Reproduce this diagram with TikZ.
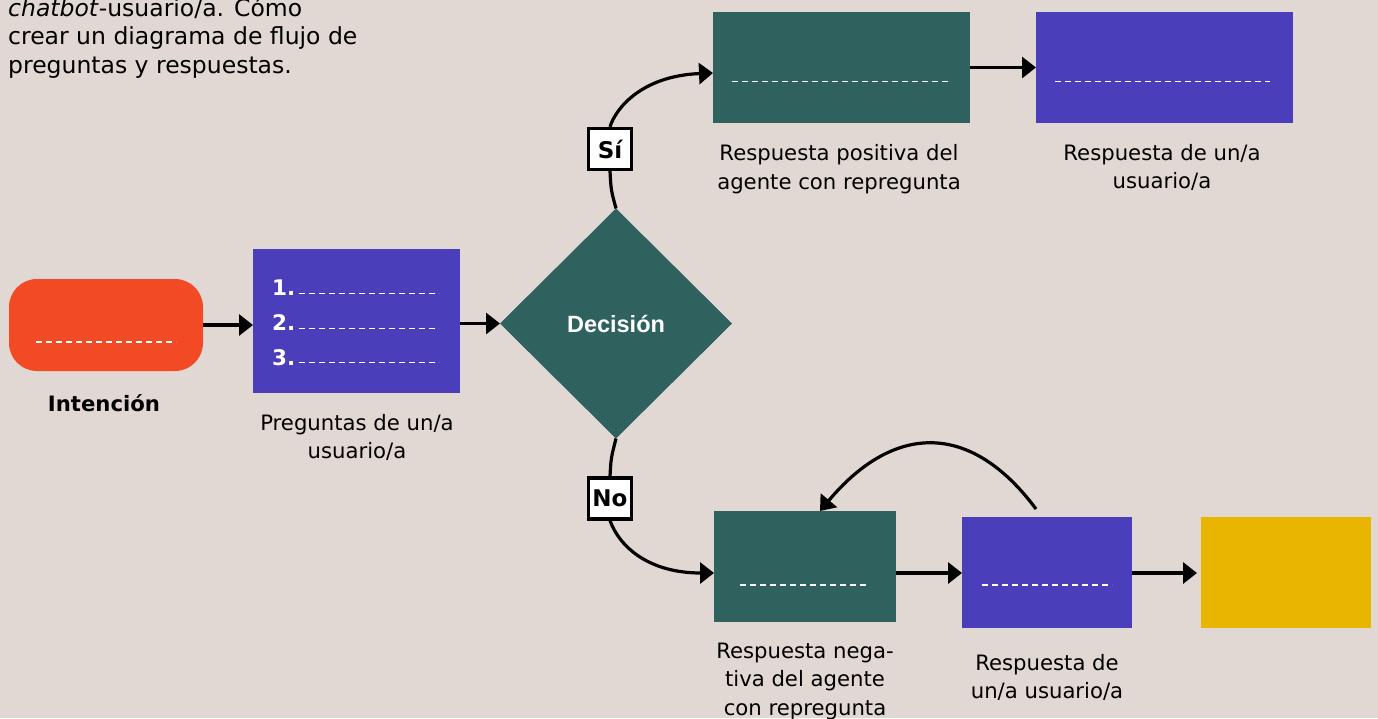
\documentclass[tikz,border=0pt]{standalone}
\usepackage{fontspec}
\setmainfont{DejaVu Sans}
\newfontfamily\decfont{Liberation Sans}
\usetikzlibrary{arrows.meta,shapes.geometric,calc}
\definecolor{bgc}{HTML}{E2D8D3}
\definecolor{orangec}{HTML}{F24A25}
\definecolor{purplec}{HTML}{4A3EBB}
\definecolor{greenc}{HTML}{2F625F}
\definecolor{yellowc}{HTML}{E9B501}
\begin{document}
\begin{tikzpicture}[x=1pt,y=-1pt,
  box/.style={draw=none,inner sep=0pt,outer sep=0pt},
  conn/.style={line width=3.2pt},
  arr/.style={line width=3.2pt,-{Triangle[length=14pt 0 0,width=21pt 0 0]}},
  dsh/.style={white,line width=1.5pt,dash pattern=on 6pt off 4pt},
  lbl/.style={inner sep=0pt,anchor=base,font=\fontsize{21.2}{28.5}\selectfont},
  num/.style={anchor=base west,inner sep=0pt,text=white,font=\fontsize{21.5}{26}\selectfont\bfseries},
  tag/.style={draw=black,fill=white,line width=3.2pt,minimum width=43pt,minimum height=41pt,inner sep=0pt,font=\fontsize{23}{26}\selectfont\bfseries},
  ]
\fill[bgc] (0,0) rectangle (1378,718);
\useasboundingbox (0,0) rectangle (1378,718);

% intro text
\node[anchor=base west,inner sep=0pt,font=\fontsize{23.5}{28.5}\selectfont] (intro) at (8,16)
  {\begin{tabular}[t]{@{}l@{}}\textit{chatbot}-usuario/a. Cómo\\crear un diagrama de flujo de\\preguntas y respuestas.\end{tabular}};

% boxes
\node[box,fill=orangec,rounded corners=28pt,minimum width=194pt,minimum height=92pt] (intent) at (106,325) {};
\node[box,fill=purplec,minimum width=207pt,minimum height=144pt] (preg) at (356.5,321) {};
\node[box,diamond,fill=greenc,minimum width=232pt,minimum height=230pt,text=white,
  font=\decfont\bfseries\fontsize{23.5}{28}\selectfont] (dec) at (616,323.5) {Decisión};
\node[box,fill=greenc,minimum width=257pt,minimum height=111pt] (pos) at (841.5,67.5) {};
\node[box,fill=purplec,minimum width=257pt,minimum height=111pt] (usr1) at (1164.5,67.5) {};
\node[box,fill=greenc,minimum width=182pt,minimum height=111pt] (neg) at (805,566.5) {};
\node[box,fill=purplec,minimum width=170pt,minimum height=111pt] (usr2) at (1047,572.5) {};
\node[box,fill=yellowc,minimum width=170pt,minimum height=111pt] (fin) at (1286,572.5) {};

% tags
\node[tag] (si) at (610,149) {Sí};
\node[tag] (no) at (610,498.5) {No};

% dashed placeholders
\draw[dsh] ($(intent.center)+(-70,17)$) -- ($(intent.center)+(70,17)$);
\draw[dsh] ($(preg.center)+(-57.5,-27.5)$) -- ($(preg.center)+(82.5,-27.5)$);
\draw[dsh] ($(preg.center)+(-57.5,7.5)$) -- ($(preg.center)+(82.5,7.5)$);
\draw[dsh] ($(preg.center)+(-57.5,41.5)$) -- ($(preg.center)+(82.5,41.5)$);
\draw[dsh] ($(pos.center)+(-109.5,14.2)$) -- ($(pos.center)+(106.5,14.2)$);
\draw[dsh] ($(usr1.center)+(-109.5,14.2)$) -- ($(usr1.center)+(105.5,14.2)$);
\draw[dsh] ($(neg.center)+(-65,18.5)$) -- ($(neg.center)+(64,18.5)$);
\draw[dsh] ($(usr2.center)+(-65,12.5)$) -- ($(usr2.center)+(65,12.5)$);

% numbers
\node[num] (n1) at (272,295) {1.};
\node[num] (n2) at (272,330) {2.};
\node[num] (n3) at (272,365) {3.};

% labels
\node[lbl] (intentlbl) at (104,411.7) {\bfseries Intención};
\node[lbl] (preglbl) at (357,430) {\begin{tabular}[t]{@{}c@{}}Preguntas de un/a\\usuario/a\end{tabular}};
\node[lbl] (poslbl) at (839,160.7) {\begin{tabular}[t]{@{}c@{}}Respuesta positiva del\\agente con repregunta\end{tabular}};
\node[lbl] (usr1lbl) at (1162,160) {\begin{tabular}[t]{@{}c@{}}Respuesta de un/a\\usuario/a\end{tabular}};
\node[lbl] (neglbl) at (805,658) {\begin{tabular}[t]{@{}c@{}}Respuesta nega-\\tiva del agente\\con repregunta\end{tabular}};
\node[lbl] (usr2lbl) at (1047,670) {\begin{tabular}[t]{@{}c@{}}Respuesta de\\un/a usuario/a\end{tabular}};

% connectors
\coordinate (toprow) at (0,73);
\coordinate (lowrow) at (0,573);
\coordinate (loopstart) at (1036,509);
\draw[arr] (intent.east) -- (intent.east -| preg.west);
\draw[arr] (dec.west -| preg.east) -- (dec.west);
\draw[conn] (dec.north) .. controls (611,190) .. (si.south);
\draw[arr] (si.north) .. controls (615,110) and (640,76) .. (pos.west |- toprow);
\draw[arr] (pos.east) -- (usr1.west);
\draw[conn] (dec.south) .. controls (611,458) .. (no.north);
\draw[arr] (no.south) .. controls (620,548) and (650,573) .. (neg.west |- lowrow);
\draw[arr] (neg.east |- lowrow) -- (usr2.west |- lowrow);
\draw[arr] (usr2.east |- lowrow) -- ([xshift=-4pt]fin.west |- lowrow);
\draw[arr] (loopstart) .. controls (969,419) and (892,425) .. ([xshift=15pt]neg.north);
\end{tikzpicture}
\end{document}
